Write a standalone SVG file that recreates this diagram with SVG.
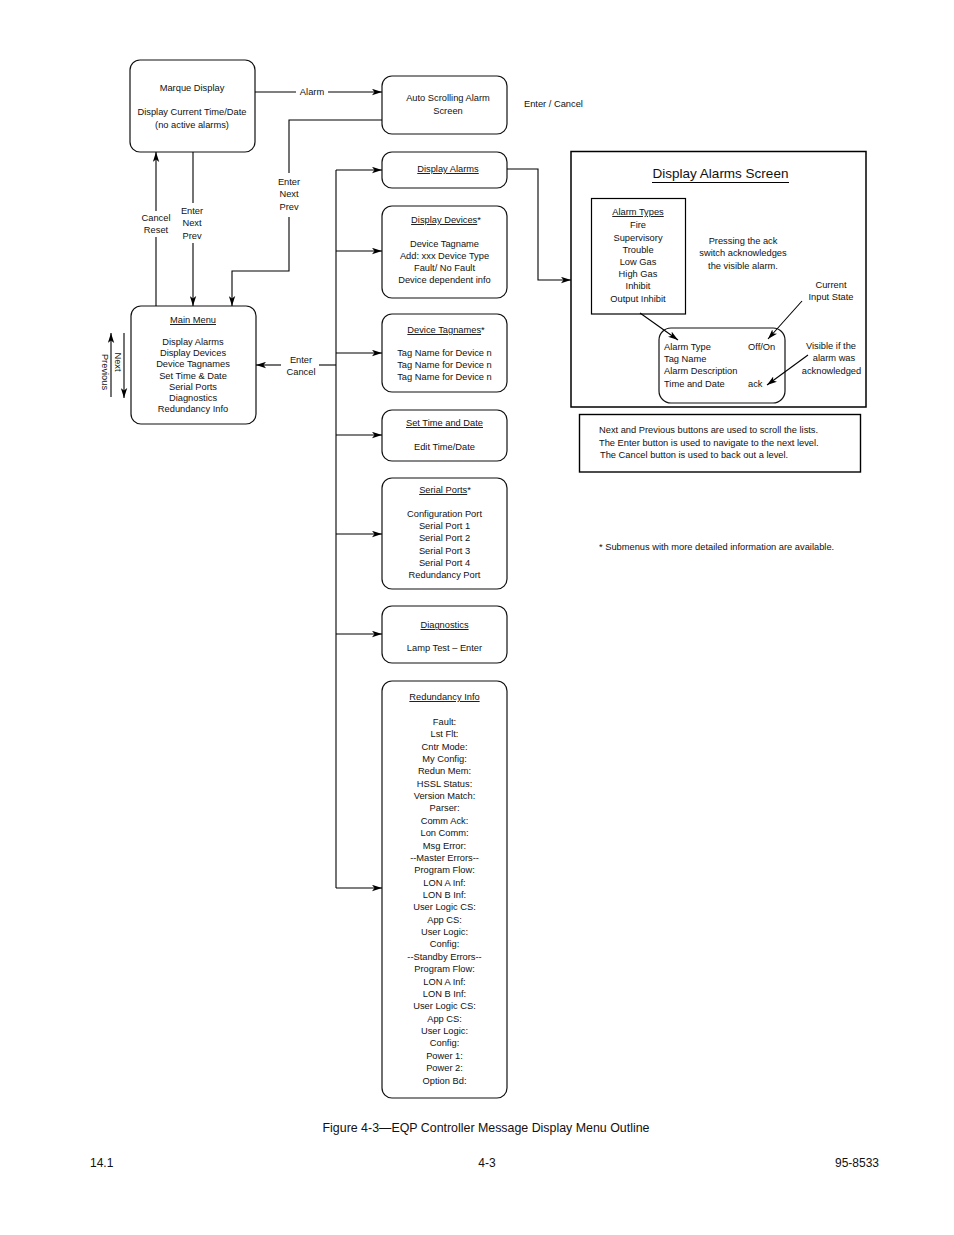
<svg xmlns="http://www.w3.org/2000/svg" width="954" height="1235" viewBox="0 0 954 1235">
<defs>
<marker id="ah" markerUnits="userSpaceOnUse" markerWidth="10" markerHeight="7" refX="10" refY="3.5" orient="auto">
<path d="M0,0.3 L10,3.5 L0,6.7 L2.5,3.5 z" fill="#000"/>
</marker>
<style>
text{font-family:"Liberation Sans",Arial,sans-serif;font-size:9.3px;fill:#111}
.c{text-anchor:middle}
.u{text-decoration:underline}
.box{fill:#fff;stroke:#111;stroke-width:1.2}
.ln{fill:none;stroke:#000;stroke-width:1.1}
.ar{fill:none;stroke:#000;stroke-width:1.1;marker-end:url(#ah)}
</style>
</defs>
<rect width="954" height="1235" fill="#fff"/>

<g id="labels">
<text class="c" x="312" y="94.5">Alarm</text>
<text class="c" x="289" y="185">Enter</text>
<text class="c" x="289" y="197">Next</text>
<text class="c" x="289" y="209.5">Prev</text>
<text class="c" x="192" y="214">Enter</text>
<text class="c" x="192" y="226">Next</text>
<text class="c" x="192" y="239">Prev</text>
<text class="c" x="156" y="221">Cancel</text>
<text class="c" x="156" y="233">Reset</text>
<text class="c" x="301" y="363">Enter</text>
<text class="c" x="301" y="375">Cancel</text>
<text transform="translate(114.5,362) rotate(90)" class="c">Next</text>
<text transform="translate(101.5,372) rotate(90)" class="c">Previous</text>
<text x="524" y="107">Enter / Cancel</text>
</g>

<g id="marque">
<rect class="box" x="130" y="60" width="125" height="92" rx="10"/>
<text class="c" x="192" y="90.5">Marque Display</text>
<text class="c" x="192" y="114.5">Display Current Time/Date</text>
<text class="c" x="192" y="127.5">(no active alarms)</text>
</g>

<g id="main-menu">
<rect class="box" x="131" y="306" width="125" height="118" rx="10"/>
<text class="c u" x="193" y="323">Main Menu</text>
<text class="c" x="193" y="345">Display Alarms</text>
<text class="c" x="193" y="356.2">Display Devices</text>
<text class="c" x="193" y="367.4">Device Tagnames</text>
<text class="c" x="193" y="378.6">Set Time &amp; Date</text>
<text class="c" x="193" y="389.8">Serial Ports</text>
<text class="c" x="193" y="401">Diagnostics</text>
<text class="c" x="193" y="412.2">Redundancy Info</text>
</g>

<g id="auto-scroll">
<rect class="box" x="382" y="76" width="125" height="58" rx="10"/>
<text class="c" x="448" y="101">Auto Scrolling Alarm</text>
<text class="c" x="448" y="114">Screen</text>
</g>

<g id="display-alarms">
<rect class="box" x="382" y="152" width="125" height="36" rx="10"/>
<text class="c u" x="448" y="172">Display Alarms</text>
</g>

<g id="display-devices">
<rect class="box" x="382" y="206" width="125" height="92" rx="10"/>
<text class="c" x="446" y="223"><tspan class="u">Display Devices</tspan>*</text>
<text class="c" x="444.5" y="246.5">Device Tagname</text>
<text class="c" x="444.5" y="258.8">Add: xxx  Device Type</text>
<text class="c" x="444.5" y="271">Fault/ No Fault</text>
<text class="c" x="444.5" y="283.3">Device dependent info</text>
</g>

<g id="device-tagnames">
<rect class="box" x="382" y="314" width="125" height="78" rx="10"/>
<text class="c" x="446" y="333"><tspan class="u">Device Tagnames</tspan>*</text>
<text class="c" x="444.5" y="355.5">Tag Name for Device n</text>
<text class="c" x="444.5" y="367.5">Tag Name for Device n</text>
<text class="c" x="444.5" y="379.5">Tag Name for Device n</text>
</g>

<g id="set-time">
<rect class="box" x="382" y="410" width="125" height="51" rx="10"/>
<text class="c u" x="444.5" y="426">Set Time and Date</text>
<text class="c" x="444.5" y="450">Edit Time/Date</text>
</g>

<g id="serial-ports">
<rect class="box" x="382" y="478" width="125" height="111" rx="10"/>
<text class="c" x="445" y="493"><tspan class="u">Serial Ports</tspan>*</text>
<text class="c" x="444.5" y="517">Configuration Port</text>
<text class="c" x="444.5" y="529.2">Serial Port 1</text>
<text class="c" x="444.5" y="541.4">Serial Port 2</text>
<text class="c" x="444.5" y="553.6">Serial Port 3</text>
<text class="c" x="444.5" y="565.8">Serial Port 4</text>
<text class="c" x="444.5" y="578">Redundancy Port</text>
</g>

<g id="diagnostics">
<rect class="box" x="382" y="606" width="125" height="57" rx="10"/>
<text class="c u" x="444.5" y="628">Diagnostics</text>
<text class="c" x="444.5" y="651">Lamp Test – Enter</text>
</g>

<g id="redundancy-info">
<rect class="box" x="382" y="681" width="125" height="417" rx="10"/>
<text class="c u" x="444.5" y="700">Redundancy Info</text>
<text class="c" x="444.5" y="724.8">Fault:<tspan x="444.5" dy="12.37">Lst Flt:</tspan><tspan x="444.5" dy="12.37">Cntr Mode:</tspan><tspan x="444.5" dy="12.37">My Config:</tspan><tspan x="444.5" dy="12.37">Redun Mem:</tspan><tspan x="444.5" dy="12.37">HSSL Status:</tspan><tspan x="444.5" dy="12.37">Version Match:</tspan><tspan x="444.5" dy="12.37">Parser:</tspan><tspan x="444.5" dy="12.37">Comm Ack:</tspan><tspan x="444.5" dy="12.37">Lon Comm:</tspan><tspan x="444.5" dy="12.37">Msg Error:</tspan><tspan x="444.5" dy="12.37">--Master Errors--</tspan><tspan x="444.5" dy="12.37">Program Flow:</tspan><tspan x="444.5" dy="12.37">LON A Inf:</tspan><tspan x="444.5" dy="12.37">LON B Inf:</tspan><tspan x="444.5" dy="12.37">User Logic CS:</tspan><tspan x="444.5" dy="12.37">App CS:</tspan><tspan x="444.5" dy="12.37">User Logic:</tspan><tspan x="444.5" dy="12.37">Config:</tspan><tspan x="444.5" dy="12.37">--Standby Errors--</tspan><tspan x="444.5" dy="12.37">Program Flow:</tspan><tspan x="444.5" dy="12.37">LON A Inf:</tspan><tspan x="444.5" dy="12.37">LON B Inf:</tspan><tspan x="444.5" dy="12.37">User Logic CS:</tspan><tspan x="444.5" dy="12.37">App CS:</tspan><tspan x="444.5" dy="12.37">User Logic:</tspan><tspan x="444.5" dy="12.37">Config:</tspan><tspan x="444.5" dy="12.37">Power 1:</tspan><tspan x="444.5" dy="12.37">Power 2:</tspan><tspan x="444.5" dy="12.37">Option Bd:</tspan></text>
</g>

<g id="display-alarms-screen">
<rect x="571" y="151.5" width="295" height="255.5" fill="none" stroke="#000" stroke-width="1.5"/>
<text class="c" x="720.5" y="178" style="font-size:13.5px">Display Alarms Screen</text>
<line x1="652" y1="182.5" x2="789" y2="182.5" stroke="#000" stroke-width="1"/>
<g id="alarm-types">
<rect x="591.5" y="198.5" width="94" height="115.5" fill="#fff" stroke="#000" stroke-width="1.2"/>
<text class="c u" x="638" y="215">Alarm Types</text>
<text class="c" x="638" y="228.3">Fire</text>
<text class="c" x="638" y="240.5">Supervisory</text>
<text class="c" x="638" y="252.7">Trouble</text>
<text class="c" x="638" y="264.9">Low Gas</text>
<text class="c" x="638" y="277.1">High Gas</text>
<text class="c" x="638" y="289.3">Inhibit</text>
<text class="c" x="638" y="301.5">Output Inhibit</text>
</g>
<text class="c" x="743" y="244">Pressing the ack</text>
<text class="c" x="743" y="256">switch acknowledges</text>
<text class="c" x="743" y="268.5">the visible alarm.</text>
<text class="c" x="831" y="288">Current</text>
<text class="c" x="831" y="300">Input State</text>
<text class="c" x="831" y="349">Visible if the</text>
<text class="c" x="834" y="361.3">alarm was</text>
<text class="c" x="831.5" y="373.5">acknowledged</text>
<g id="alarm-display">
<rect class="box" x="659" y="328" width="126" height="75" rx="12"/>
<text x="664" y="350">Alarm Type</text>
<text x="664" y="362.2">Tag Name</text>
<text x="664" y="374.4">Alarm Description</text>
<text x="664" y="386.6">Time and Date</text>
<text x="748" y="350">Off/On</text>
<text x="748" y="386.6">ack</text>
</g>
</g>

<g id="note">
<rect x="579.5" y="414.5" width="281" height="57.5" fill="none" stroke="#000" stroke-width="1.4"/>
<text x="599" y="433">Next and Previous buttons are used to scroll the lists.</text>
<text x="599" y="446">The Enter button is used to navigate to the next level.</text>
<text x="600" y="458">The Cancel button is used to back out a level.</text>
</g>

<text x="599" y="550">* Submenus with more detailed information are available.</text>

<text class="c" x="486" y="1132" style="font-size:12.4px">Figure 4-3—EQP Controller Message Display Menu Outline</text>
<text x="90" y="1167" style="font-size:12px">14.1</text>
<text class="c" x="487" y="1167" style="font-size:12px">4-3</text>
<text x="879" y="1167" style="font-size:12px;text-anchor:end">95-8533</text>

<g id="connectors">
<path class="ln" d="M255,92 H296"/>
<path class="ar" d="M328,92 H382"/>
<path class="ln" d="M382,120 H289 V173"/>
<path class="ar" d="M289,217 V271 H232 V306"/>
<path class="ln" d="M193,152 V203"/>
<path class="ar" d="M193,243 V306"/>
<path class="ln" d="M156,306 V237"/>
<path class="ar" d="M156,211 V152"/>
<path class="ar" d="M111,397 V333"/>
<path class="ar" d="M124,333 V398"/>
<path class="ln" d="M336,365 H319"/>
<path class="ar" d="M281,365 H256"/>
<path class="ln" d="M336,170 V888"/>
<path class="ar" d="M336,170 H382"/>
<path class="ar" d="M336,251 H382"/>
<path class="ar" d="M336,353 H382"/>
<path class="ar" d="M336,435 H382"/>
<path class="ar" d="M336,534 H382"/>
<path class="ar" d="M336,634 H382"/>
<path class="ar" d="M336,888 H382"/>
<path class="ar" d="M507,169 H538 V280 H571"/>
<path class="ar" d="M640,313 L678,340"/>
<path class="ar" d="M802,301 L768,339"/>
<path class="ar" d="M808,355 L767,385"/>
</g>
</svg>
